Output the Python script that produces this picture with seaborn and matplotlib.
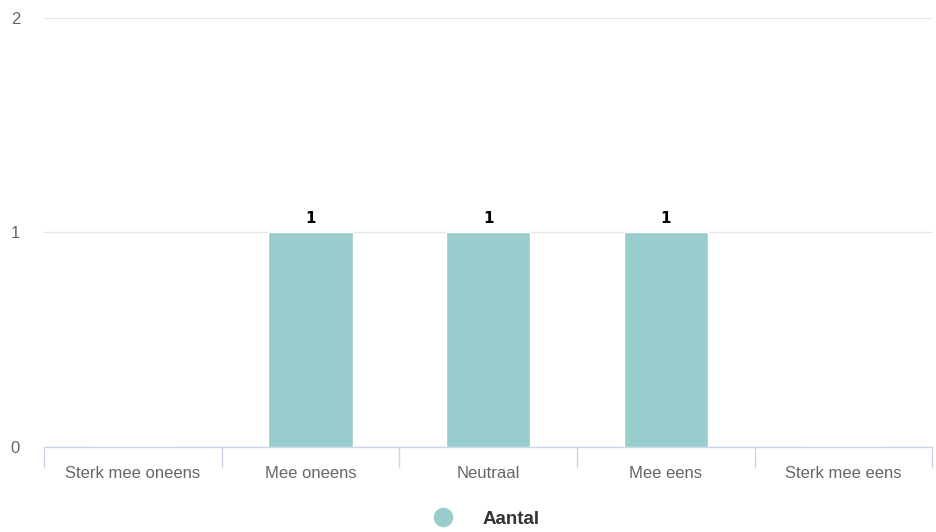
import matplotlib
matplotlib.use("Agg")
import matplotlib.pyplot as plt
from matplotlib.lines import Line2D
import seaborn as sns
import pandas as pd

categories = ["Sterk mee oneens", "Mee oneens", "Neutraal", "Mee eens", "Sterk mee eens"]
counts = [0, 1, 1, 1, 0]
series_name = "Aantal"

df = pd.DataFrame({"Antwoord": categories, "Aantal": counts})

sns.set_style("white")
plt.rcParams["font.family"] = ["Liberation Sans", "DejaVu Sans"]

fig = plt.figure(figsize=(9.37, 5.32), dpi=100)
ax = fig.add_axes([0.047, 0.16, 0.948, 0.806])

sns.barplot(data=df, x="Antwoord", y="Aantal", color="#99cccc", width=0.475,
            saturation=1, edgecolor="white", linewidth=1, ax=ax, zorder=3)

# data labels on the non-zero bars
for i, v in enumerate(counts):
    if v > 0:
        ax.text(i, v + 0.03, str(v), ha="center", va="bottom",
                fontsize=11, fontweight="bold", color="black", family="DejaVu Sans")

ax.set_xlim(-0.5, len(categories) - 0.5)
ax.set_ylim(0, 2)
ax.set_yticks([0, 1, 2])
ax.yaxis.grid(True, color="#e6e6e6", linewidth=1, zorder=0)
ax.set_xlabel("")
ax.set_ylabel("")

ax.tick_params(axis="y", length=0, labelsize=12, labelcolor="#666666", pad=24)
for lab in ax.get_yticklabels():
    lab.set_horizontalalignment("left")
    lab.set_verticalalignment("center_baseline")
ax.tick_params(axis="x", which="major", length=0, labelsize=12, labelcolor="#666666", pad=14)
ax.set_xticks([i - 0.5 for i in range(len(categories) + 1)], minor=True)
ax.tick_params(axis="x", which="minor", bottom=True, length=15, color="#ccd6eb", width=1)

for side in ["top", "right", "left"]:
    ax.spines[side].set_visible(False)
ax.spines["bottom"].set_color("#ccd6eb")
ax.spines["bottom"].set_linewidth(1)

handle = Line2D([0], [0], marker="o", color="none", markerfacecolor="#99cccc",
                markeredgecolor="#99cccc", markersize=13)
leg = fig.legend([handle], [series_name], loc="center", bbox_to_anchor=(0.5145, 0.024),
                 frameon=False, handletextpad=1.1, prop={"weight": "bold", "size": 13.5})
for t in leg.get_texts():
    t.set_color("#333333")

fig.savefig("out.png", dpi=100)
